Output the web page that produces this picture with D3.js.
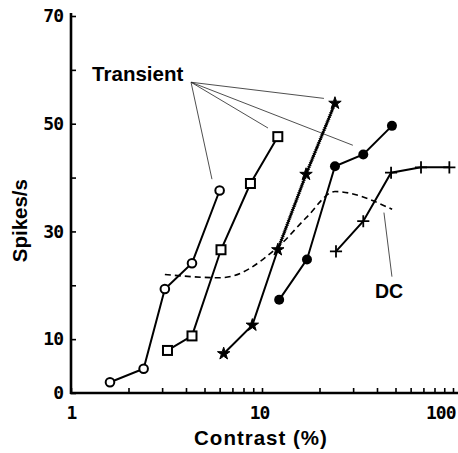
<!DOCTYPE html>
<html>
<head>
<meta charset="utf-8">
<script src="https://cdn.jsdelivr.net/npm/d3@7"></script>
<style>
  body { margin: 0; background: #fff; }
  svg { display: block; }
</style>
</head>
<body>
<div id="chart"></div>
<script>
// contrast response curves, five cells + mean DC response (dashed)

var contrastCircle = [1.6, 2.4, 3.1, 4.3, 6.0];
var spikesCircle = [2.0, 4.5, 19.3, 24.1, 37.6];

var contrastSquare = [3.2, 4.3, 6.1, 8.7, 12.1];
var spikesSquare = [7.9, 10.6, 26.6, 38.9, 47.6];

var contrastStar = [6.3, 8.9, 12.1, 17.0, 24.1];
var spikesStar = [7.3, 12.6, 26.6, 40.6, 53.8];

var contrastDot = [12.3, 17.2, 24.1, 33.9, 47.9];
var spikesDot = [17.3, 24.8, 42.1, 44.3, 49.6];

var contrastPlus = [24.4, 33.9, 47.4, 68, 95.7];
var spikesPlus = [26.3, 31.9, 40.9, 41.9, 41.9];

var contrastDC = [3.1, 6.1, 12.2, 17.1, 24.1, 48];
var spikesDC = [22.0, 21.4, 27.2, 32.6, 37.4, 34.1];

var yTicks = [0, 10, 20, 30, 40, 50, 60, 70];
var yTickLabels = [0, 10, 30, 50, 70];
var xTicks = [1, 2, 3, 4, 5, 6, 7, 8, 9, 10, 20, 30, 40, 50, 60, 70, 80, 90, 100];
var xTickLabels = [1, 10, 100];

// annotation anchors, in data units [contrast, spikes]
var transientLabel = [1.29, 58.0];
var transientFrom = [4.25, 57.7];
var transientTo = [[5.47, 39.7], [10.75, 49.2], [21.1, 54.7], [29.9, 46.0]];
var dcLabel = [39.0, 17.7];
var dcLeader = [[43.5, 33.5], [47.9, 21.6]];

(function() {
  var width = 458, height = 453;

  var svg = d3.select("#chart")
    .append("svg")
    .attr("width", width)
    .attr("height", height);

  var x = d3.scaleLog().domain([1, 100]).range([71, 453]);
  var y = d3.scaleLinear().domain([0, 70]).range([393, 16]);

  var tickFont = "'DejaVu Sans Mono', monospace";
  var labelFont = "'Liberation Sans', Arial, sans-serif";

  // y axis
  var yAxis = d3.axisLeft(y)
    .tickValues(yTicks)
    .tickSizeInner(-5)
    .tickSizeOuter(0)
    .tickPadding(8)
    .tickFormat(function(d) {
      return yTickLabels.indexOf(d) >= 0 ? d : "";
    });

  var gy = svg.append("g")
    .attr("transform", "translate(" + x(1) + ",0)")
    .call(yAxis);
  gy.select(".domain").remove();
  gy.selectAll("line").attr("stroke", "#000").attr("stroke-width", 1.6);
  gy.selectAll("text")
    .attr("font-family", tickFont)
    .attr("font-weight", "bold")
    .attr("font-size", 18)
    .attr("letter-spacing", -1)
    .attr("fill", "#000");

  // x axis
  var xAxis = d3.axisBottom(x)
    .tickValues(xTicks)
    .tickSizeInner(-5)
    .tickSizeOuter(0)
    .tickPadding(13)
    .tickFormat(function(d) {
      return xTickLabels.indexOf(d) >= 0 ? d : "";
    });

  var gx = svg.append("g")
    .attr("transform", "translate(0," + y(0) + ")")
    .call(xAxis);
  gx.select(".domain").remove();
  gx.selectAll("line").attr("stroke", "#000").attr("stroke-width", 1.6);
  gx.selectAll("text")
    .attr("font-family", tickFont)
    .attr("font-weight", "bold")
    .attr("font-size", 18)
    .attr("letter-spacing", -1)
    .attr("fill", "#000")
    .attr("text-anchor", function(d) { return d === 100 ? "end" : "middle"; })
    .attr("dx", function(d) { return d === 100 ? 2 : (d === 10 ? -3 : 0); });

  // axis lines
  svg.append("line")
    .attr("x1", x(1)).attr("x2", x(1))
    .attr("y1", y(70) - 3).attr("y2", y(0) + 1)
    .attr("stroke", "#000").attr("stroke-width", 2.6);
  svg.append("line")
    .attr("x1", x(1) - 1).attr("x2", x(107))
    .attr("y1", y(0)).attr("y2", y(0))
    .attr("stroke", "#000").attr("stroke-width", 2.4);

  // axis titles
  svg.append("text")
    .attr("transform", "translate(27," + y(32) + ") rotate(-90)")
    .attr("text-anchor", "middle")
    .attr("font-family", labelFont)
    .attr("font-weight", "bold")
    .attr("font-size", 20.5)
    .text("Spikes/s");

  svg.append("text")
    .attr("x", 261)
    .attr("y", 445)
    .attr("text-anchor", "middle")
    .attr("font-family", labelFont)
    .attr("font-weight", "bold")
    .attr("font-size", 20.5)
    .attr("letter-spacing", 1)
    .text("Contrast (%)");

  function pairs(xs, ys) {
    return xs.map(function(c, i) { return [c, ys[i]]; });
  }

  var line = d3.line()
    .x(function(d) { return x(d[0]); })
    .y(function(d) { return y(d[1]); });

  // DC dashed curve
  svg.append("path")
    .datum(pairs(contrastDC, spikesDC))
    .attr("d", line.curve(d3.curveMonotoneX))
    .attr("fill", "none")
    .attr("stroke", "#000")
    .attr("stroke-width", 1.6)
    .attr("stroke-dasharray", "6,4");
  line.curve(d3.curveLinear);

  // leader lines
  svg.selectAll(".leader")
    .data(transientTo)
    .enter().append("line")
    .attr("x1", x(transientFrom[0]))
    .attr("y1", y(transientFrom[1]))
    .attr("x2", function(d) { return x(d[0]); })
    .attr("y2", function(d) { return y(d[1]); })
    .attr("stroke", "#222")
    .attr("stroke-width", 0.8);

  svg.append("line")
    .attr("x1", x(dcLeader[0][0])).attr("y1", y(dcLeader[0][1]))
    .attr("x2", x(dcLeader[1][0])).attr("y2", y(dcLeader[1][1]))
    .attr("stroke", "#222")
    .attr("stroke-width", 0.8);

  svg.append("text")
    .attr("x", x(transientLabel[0]))
    .attr("y", y(transientLabel[1]))
    .attr("font-family", labelFont)
    .attr("font-weight", "bold")
    .attr("font-size", 20.5)
    .text("Transient");

  svg.append("text")
    .attr("x", x(dcLabel[0]))
    .attr("y", y(dcLabel[1]))
    .attr("font-family", labelFont)
    .attr("font-weight", "bold")
    .attr("font-size", 19.5)
    .text("DC");

  // series
  var series = [
    { data: pairs(contrastCircle, spikesCircle), mark: "circle" },
    { data: pairs(contrastSquare, spikesSquare), mark: "square" },
    { data: pairs(contrastStar, spikesStar), mark: "star" },
    { data: pairs(contrastDot, spikesDot), mark: "dot" },
    { data: pairs(contrastPlus, spikesPlus), mark: "plus" }
  ];

  series.forEach(function(s) {
    svg.append("path")
      .datum(s.data)
      .attr("d", line)
      .attr("fill", "none")
      .attr("stroke", "#000")
      .attr("stroke-width", 2);
  });

  // heavier, grainy upper part of the star curve
  svg.append("path")
    .datum(pairs(contrastStar, spikesStar).slice(2))
    .attr("d", line)
    .attr("fill", "none")
    .attr("stroke", "#000")
    .attr("stroke-width", 3.4)
    .attr("stroke-dasharray", "1,1");

  var plusType = d3.symbolPlus || d3.symbolCross;

  series.forEach(function(s) {
    var g = svg.append("g");
    var pts = g.selectAll(".pt")
      .data(s.data)
      .enter();

    if (s.mark === "circle") {
      pts.append("circle")
        .attr("cx", function(d) { return x(d[0]); })
        .attr("cy", function(d) { return y(d[1]); })
        .attr("r", 4.3)
        .attr("fill", "#fff")
        .attr("stroke", "#000")
        .attr("stroke-width", 2);
    } else if (s.mark === "square") {
      pts.append("rect")
        .attr("x", function(d) { return x(d[0]) - 4.5; })
        .attr("y", function(d) { return y(d[1]) - 4.5; })
        .attr("width", 9)
        .attr("height", 9)
        .attr("fill", "#fff")
        .attr("stroke", "#000")
        .attr("stroke-width", 2);
    } else if (s.mark === "dot") {
      pts.append("circle")
        .attr("cx", function(d) { return x(d[0]); })
        .attr("cy", function(d) { return y(d[1]); })
        .attr("r", 5)
        .attr("fill", "#000");
    } else if (s.mark === "star") {
      pts.append("path")
        .attr("transform", function(d) { return "translate(" + x(d[0]) + "," + y(d[1]) + ")"; })
        .attr("d", d3.symbol().type(d3.symbolStar).size(48))
        .attr("fill", "#000")
        .attr("stroke", "#000")
        .attr("stroke-width", 1);
    } else {
      pts.append("path")
        .attr("transform", function(d) { return "translate(" + x(d[0]) + "," + y(d[1]) + ")"; })
        .attr("d", d3.symbol().type(plusType).size(50))
        .attr("fill", d3.symbolPlus ? "none" : "#000")
        .attr("stroke", "#000")
        .attr("stroke-width", 1.8);
    }
  });
})();
</script>
</body>
</html>
